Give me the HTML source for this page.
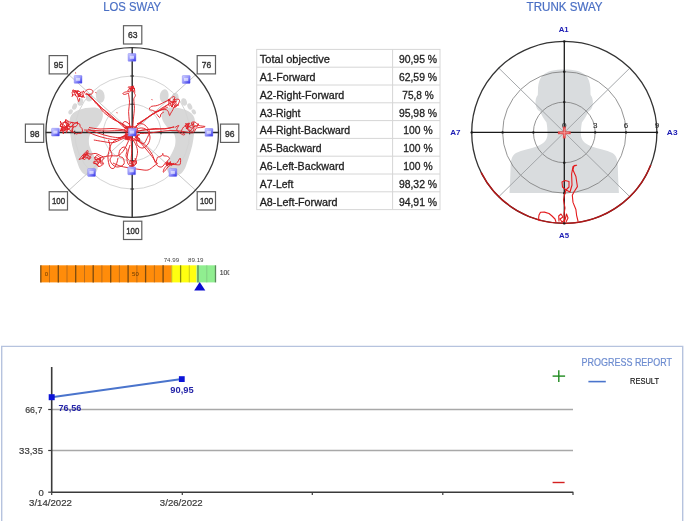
<!DOCTYPE html>
<html><head><meta charset="utf-8"><style>
html,body{margin:0;padding:0;background:#fff;}
svg{display:block;font-family:"Liberation Sans",sans-serif;filter:blur(0.35px);}
</style></head><body>
<svg width="685" height="522" viewBox="0 0 685 522">
<rect width="685" height="522" fill="#fff"/>
<text x="103.2" y="10.6" font-size="12.2" fill="#4a6fc4" text-anchor="start" stroke="#4a6fc4" stroke-width="0.2" textLength="58" lengthAdjust="spacingAndGlyphs">LOS SWAY</text>
<text x="526.6" y="10.6" font-size="12.2" fill="#4a6fc4" text-anchor="start" stroke="#4a6fc4" stroke-width="0.2" textLength="76" lengthAdjust="spacingAndGlyphs">TRUNK SWAY</text>
<g fill="#d8d8d8">
<path d="M70,118 C72,110 85,107 95,107.5 C102,108 104,113 102.5,118 C101,124 96,129 91,133 C88.5,136 88.5,142 89.5,146 C91,151 94,156 97,161 C99,166 98,173 92,175.5 C86,177 81,173 78.5,166 C75,156 72,147 71,139 C70,131 68.5,124 70,118 Z"/>
<ellipse cx="100.2" cy="96" rx="4.4" ry="6.8" transform="rotate(-8 100.2 96)"/>
<ellipse cx="89.1" cy="97.2" rx="3.3" ry="4.3"/>
<ellipse cx="80.3" cy="102" rx="2.8" ry="3.8" transform="rotate(15 80.3 102)"/>
<ellipse cx="74.6" cy="106.6" rx="2.3" ry="3.3" transform="rotate(25 74.6 106.6)"/>
<ellipse cx="70.6" cy="111.8" rx="2.0" ry="2.7" transform="rotate(30 70.6 111.8)"/>
<g transform="translate(264.4,0) scale(-1,1)">
<path d="M70,118 C72,110 85,107 95,107.5 C102,108 104,113 102.5,118 C101,124 96,129 91,133 C88.5,136 88.5,142 89.5,146 C91,151 94,156 97,161 C99,166 98,173 92,175.5 C86,177 81,173 78.5,166 C75,156 72,147 71,139 C70,131 68.5,124 70,118 Z"/>
<ellipse cx="100.2" cy="96" rx="4.4" ry="6.8" transform="rotate(-8 100.2 96)"/>
<ellipse cx="89.1" cy="97.2" rx="3.3" ry="4.3"/>
<ellipse cx="80.3" cy="102" rx="2.8" ry="3.8" transform="rotate(15 80.3 102)"/>
<ellipse cx="74.6" cy="106.6" rx="2.3" ry="3.3" transform="rotate(25 74.6 106.6)"/>
<ellipse cx="70.6" cy="111.8" rx="2.0" ry="2.7" transform="rotate(30 70.6 111.8)"/>
</g></g>
<ellipse cx="132.2" cy="132.5" rx="28.8" ry="28.3" fill="none" stroke="#d4d4d4" stroke-width="1"/>
<ellipse cx="132.2" cy="132.5" rx="57.5" ry="56.5" fill="none" stroke="#d4d4d4" stroke-width="1"/>
<line x1="132.2" y1="132.5" x2="67.4" y2="73.4" stroke="#c8c8c8" stroke-width="1"/>
<line x1="132.2" y1="132.5" x2="197.2" y2="73.4" stroke="#c8c8c8" stroke-width="1"/>
<line x1="132.2" y1="132.5" x2="197.2" y2="191.7" stroke="#c8c8c8" stroke-width="1"/>
<line x1="132.2" y1="132.5" x2="67.4" y2="191.7" stroke="#c8c8c8" stroke-width="1"/>
<ellipse cx="132.2" cy="132.5" rx="86.3" ry="84.8" fill="none" stroke="#3a3a3a" stroke-width="1.3"/>
<line x1="45.89999999999999" y1="132.5" x2="218.5" y2="132.5" stroke="#2a2a2a" stroke-width="1.4"/>
<line x1="132.2" y1="47.7" x2="132.2" y2="217.3" stroke="#2a2a2a" stroke-width="1.4"/>
<line x1="103.4" y1="130.7" x2="103.4" y2="134.3" stroke="#2a2a2a" stroke-width="1"/>
<line x1="130.39999999999998" y1="104.2" x2="134.0" y2="104.2" stroke="#2a2a2a" stroke-width="1"/>
<line x1="161.0" y1="130.7" x2="161.0" y2="134.3" stroke="#2a2a2a" stroke-width="1"/>
<line x1="130.39999999999998" y1="160.8" x2="134.0" y2="160.8" stroke="#2a2a2a" stroke-width="1"/>
<line x1="74.7" y1="130.7" x2="74.7" y2="134.3" stroke="#2a2a2a" stroke-width="1"/>
<line x1="130.39999999999998" y1="76.0" x2="134.0" y2="76.0" stroke="#2a2a2a" stroke-width="1"/>
<line x1="189.7" y1="130.7" x2="189.7" y2="134.3" stroke="#2a2a2a" stroke-width="1"/>
<line x1="130.39999999999998" y1="189.0" x2="134.0" y2="189.0" stroke="#2a2a2a" stroke-width="1"/>
<rect x="123.5" y="25.7" width="18.3" height="18.3" fill="#fff" stroke="#606060" stroke-width="1.2"/>
<text x="132.8" y="38.1" font-size="9.8" fill="#363636" text-anchor="middle" stroke="#363636" stroke-width="0.42" textLength="9.5" lengthAdjust="spacingAndGlyphs">63</text>
<rect x="197.2" y="55.6" width="18.3" height="18.3" fill="#fff" stroke="#606060" stroke-width="1.2"/>
<text x="206.5" y="68.0" font-size="9.8" fill="#363636" text-anchor="middle" stroke="#363636" stroke-width="0.42" textLength="9.5" lengthAdjust="spacingAndGlyphs">76</text>
<rect x="220.5" y="124.1" width="18.3" height="18.3" fill="#fff" stroke="#606060" stroke-width="1.2"/>
<text x="229.8" y="136.5" font-size="9.8" fill="#363636" text-anchor="middle" stroke="#363636" stroke-width="0.42" textLength="9.5" lengthAdjust="spacingAndGlyphs">96</text>
<rect x="197.2" y="191.7" width="18.3" height="18.3" fill="#fff" stroke="#606060" stroke-width="1.2"/>
<text x="206.5" y="204.1" font-size="9.8" fill="#363636" text-anchor="middle" stroke="#363636" stroke-width="0.42" textLength="13.2" lengthAdjust="spacingAndGlyphs">100</text>
<rect x="123.5" y="221.2" width="18.3" height="18.3" fill="#fff" stroke="#606060" stroke-width="1.2"/>
<text x="132.8" y="233.6" font-size="9.8" fill="#363636" text-anchor="middle" stroke="#363636" stroke-width="0.42" textLength="13.2" lengthAdjust="spacingAndGlyphs">100</text>
<rect x="49.2" y="191.7" width="18.3" height="18.3" fill="#fff" stroke="#606060" stroke-width="1.2"/>
<text x="58.5" y="204.1" font-size="9.8" fill="#363636" text-anchor="middle" stroke="#363636" stroke-width="0.42" textLength="13.2" lengthAdjust="spacingAndGlyphs">100</text>
<rect x="25.4" y="124.1" width="18.3" height="18.3" fill="#fff" stroke="#606060" stroke-width="1.2"/>
<text x="34.7" y="136.5" font-size="9.8" fill="#363636" text-anchor="middle" stroke="#363636" stroke-width="0.42" textLength="9.5" lengthAdjust="spacingAndGlyphs">98</text>
<rect x="49.2" y="55.6" width="18.3" height="18.3" fill="#fff" stroke="#606060" stroke-width="1.2"/>
<text x="58.5" y="68.0" font-size="9.8" fill="#363636" text-anchor="middle" stroke="#363636" stroke-width="0.42" textLength="9.5" lengthAdjust="spacingAndGlyphs">95</text>
<g fill="none" stroke="#e02228" stroke-width="0.95" stroke-linejoin="round">
<path d="M131.1,131.9 C129.8,131.0 126.1,128.9 123.3,126.7 C120.6,124.5 117.7,121.3 114.8,118.8 C112.0,116.3 109.3,114.0 106.3,111.6 C103.4,109.2 99.4,106.9 97.0,104.5 C94.5,102.2 93.5,99.3 91.8,97.5 C90.0,95.6 87.3,94.0 86.4,93.3"/>
<path d="M130.7,130.7 C129.5,129.7 125.9,126.9 123.1,124.9 C120.3,123.0 116.9,121.1 113.9,118.8 C110.8,116.6 107.7,113.9 104.9,111.3 C102.1,108.6 99.4,105.3 97.0,103.1 C94.7,100.8 92.7,99.3 90.9,97.7 C89.2,96.1 87.3,94.1 86.5,93.4"/>
<path d="M130.7,129.6 C129.5,128.7 126.4,126.1 123.6,124.5 C120.9,122.8 117.4,121.8 114.0,119.8 C110.6,117.7 106.3,114.7 103.5,112.1 C100.7,109.4 99.3,106.1 97.2,103.8 C95.2,101.4 93.1,99.5 91.3,97.9 C89.6,96.2 87.5,94.5 86.7,93.8"/>
<path d="M84.0,93.5 C84.3,93.0 85.1,91.2 86.0,90.5 C86.9,89.8 88.4,89.2 89.5,89.3 C90.6,89.3 92.4,90.0 92.8,90.8 C93.2,91.5 92.8,93.2 92.0,93.8 C91.2,94.4 89.2,94.5 88.0,94.5 C86.8,94.5 85.5,94.1 85.0,94.0"/>
<path d="M77.0,96.5 C77.2,97.1 77.7,99.2 78.0,100.0 C78.3,100.8 78.5,101.9 78.8,101.6 C79.1,101.3 79.5,98.6 79.6,98.0"/>
<path d="M78.2,93.5 L76.9,92.8 L76.7,91.3 L75.7,90.2 L75.3,91.7 L76.2,92.8 L77.6,93.4 L77.9,94.8 L79.1,95.8 L78.4,97.1 L78.6,95.6 L80.0,95.3 L81.5,94.8 L82.8,95.6 L82.3,97.0 L80.9,96.4 L79.5,96.3 L78.8,94.9 L77.5,94.2 L76.6,93.0 L77.7,91.9 L78.0,90.5 L77.9,92.0 L76.4,92.1 L75.2,91.3 L74.2,90.1 L73.2,91.3 L72.0,92.1 L72.3,93.6 L72.6,95.1 L72.1,96.5 L72.8,95.2 L74.2,94.5 L75.4,95.3 L76.4,96.5 L75.6,95.2 L75.3,93.7 L74.1,92.9 L74.8,91.5 L76.2,91.3 L77.7,90.9 L79.1,91.4 L80.4,92.0 L80.8,93.5 L80.3,94.9 L79.3,96.0 L78.1,96.9 L78.1,95.4 L78.9,94.1 L80.0,93.0 L81.2,92.2 L82.6,91.9 L83.8,91.0 L83.0,92.2 L82.7,93.7 L83.4,95.0 L83.2,96.5 L84.5,97.3 L83.1,96.7 L81.7,97.3 L80.9,96.0 L79.5,96.6 L79.7,95.1 L78.7,94.0 L77.7,92.9 L76.5,92.0 L75.0,91.8 L73.8,92.6 L73.7,91.1 L72.4,90.4 L73.8,89.8"/>
<path d="M129.9,131.0 C129.8,129.5 129.7,125.2 129.4,122.0 C129.2,118.7 128.6,114.9 128.6,111.6 C128.6,108.3 129.6,105.3 129.5,102.2 C129.5,99.1 128.6,94.6 128.4,93.1"/>
<path d="M132.6,131.5 C132.7,129.6 133.0,123.8 133.3,119.9 C133.6,116.0 134.3,111.6 134.4,108.2 C134.4,104.9 133.8,101.7 133.8,99.9 C133.8,98.2 134.0,98.4 134.3,97.6 C134.6,96.9 135.5,96.2 135.4,95.3 C135.4,94.5 134.1,92.9 133.9,92.4"/>
<path d="M128.5,91.5 C127.8,91.6 125.5,91.9 124.5,92.3 C123.5,92.7 122.7,93.4 122.8,93.8 C122.9,94.2 124.1,94.5 125.0,94.4 C125.9,94.3 127.8,93.2 128.3,93.0"/>
<path d="M131.2,89.0 L130.1,88.6 L129.6,87.5 L129.1,86.4 L128.3,87.4 L129.0,88.4 L130.0,89.0 L131.2,89.3 L132.0,90.1 L132.7,91.1 L133.8,91.6 L134.7,92.5 L134.7,91.3 L134.6,90.1 L134.1,89.0 L133.2,88.1 L133.1,86.9 L133.5,85.8 L133.0,86.9 L132.2,87.8 L131.8,88.9 L132.1,90.1 L131.3,91.0 L130.1,91.2 L129.2,92.0 L128.3,91.2 L127.8,90.2 L128.8,89.5 L129.7,88.7 L130.9,88.6 L130.9,87.4 L131.2,86.2 L132.1,87.0 L132.6,88.1 L133.8,88.1 L134.9,88.5 L133.8,88.1 L133.0,87.2 L132.7,86.0 L132.6,87.2 L133.2,88.3 L134.2,88.9 L134.6,90.0 L133.6,90.6 L132.4,90.8 L131.2,90.5 L130.0,90.4 L130.5,89.3 L131.0,88.2 L132.0,88.9 L132.6,87.9 L131.5,87.5 L131.0,86.4 L131.0,87.6 L131.4,88.8 L131.8,89.9"/>
<path d="M131.9,129.6 C132.8,128.8 135.1,126.6 137.4,124.9 C139.7,123.1 143.1,120.8 145.5,119.0 C148.0,117.2 149.9,115.5 152.2,114.1 C154.6,112.7 157.1,111.7 159.7,110.6 C162.3,109.4 166.5,107.7 167.8,107.2"/>
<path d="M132.5,131.1 C133.3,130.2 135.4,127.5 137.4,125.6 C139.4,123.8 142.1,121.8 144.5,120.0 C147.0,118.2 149.4,116.4 152.1,114.7 C154.7,113.1 157.9,111.7 160.4,110.1 C163.0,108.5 166.2,106.0 167.4,105.2"/>
<path d="M149.2,109.0 C149.5,108.6 150.1,106.9 151.2,106.4 C152.3,105.9 154.4,106.1 155.8,105.8 C157.2,105.5 158.2,105.2 159.7,104.5 C161.2,103.8 163.2,102.7 165.0,101.8 C166.8,100.9 168.9,100.1 170.2,99.2 C171.5,98.3 172.1,96.9 172.9,96.6 C173.7,96.3 174.6,96.7 174.8,97.2 C175.0,97.8 173.9,99.6 174.2,99.9 C174.5,100.2 175.9,99.2 176.8,99.2 C177.7,99.2 179.1,99.2 179.4,99.9 C179.7,100.6 179.2,102.1 178.8,103.1 C178.4,104.1 177.6,105.1 176.8,105.8 C176.0,106.5 174.8,106.4 174.2,107.1 C173.5,107.8 173.4,108.7 172.9,109.7 C172.4,110.7 171.5,112.0 170.9,113.0 C170.3,114.0 170.0,115.8 169.6,115.6 C169.2,115.4 168.9,112.7 168.3,111.7 C167.8,110.7 167.2,110.0 166.3,109.7 C165.4,109.4 164.1,109.6 163.0,109.7 C161.9,109.8 160.9,110.1 159.7,110.4 C158.5,110.7 157.0,111.7 155.8,111.7 C154.6,111.7 153.6,110.7 152.5,110.4 C151.4,110.1 149.8,109.8 149.2,109.7"/>
<path d="M156.4,113.7 C156.9,114.3 158.9,117.5 159.7,117.6 C160.5,117.6 160.3,114.9 161.0,114.0 C161.7,113.1 163.5,112.3 164.0,112.0"/>
<path d="M137.0,124.0 C139.2,122.7 145.8,118.7 150.0,116.0 C154.2,113.3 158.5,110.2 162.0,108.0 C165.5,105.8 168.5,104.2 171.0,103.0 C173.5,101.8 176.0,101.3 177.0,101.0"/>
<path d="M173.2,103.2 L173.4,102.0 L173.1,100.7 L173.5,99.4 L174.5,98.6 L174.7,99.9 L174.7,101.2 L175.6,102.1 L176.2,103.3 L175.6,104.5 L174.7,105.4 L174.4,106.7 L173.6,107.7 L174.7,107.0 L176.0,107.0 L176.2,105.7 L177.4,105.3 L178.7,105.0 L177.4,104.9 L176.1,105.0 L174.8,105.3 L173.6,104.7 L172.4,105.2 L171.3,105.9 L171.7,107.1 L171.9,105.8 L172.3,104.6 L172.8,103.4 L173.6,102.4 L174.7,101.6 L174.9,102.9 L174.1,103.9 L173.1,104.7 L172.3,105.8 L172.4,107.1 L172.5,105.8 L172.3,104.5 L172.8,103.3 L172.6,102.1 L171.5,101.4 L170.2,101.1 L169.2,100.4 L168.0,99.8 L168.9,98.9 L168.4,100.1 L168.4,101.4 L168.8,102.7 L168.8,104.0 L168.5,105.2 L169.6,105.9 L170.7,105.3 L170.9,104.0 L169.9,103.1 L170.1,101.8 L169.5,100.7 L168.4,100.1 L169.6,100.3 L170.5,101.2 L171.6,102.0 L172.9,101.7 L174.0,101.0"/>
<path d="M134.5,131.5 C136.3,131.3 142.2,130.4 145.6,129.9 C149.0,129.4 151.5,128.7 154.8,128.5 C158.1,128.4 162.0,129.2 165.2,128.9 C168.5,128.6 172.6,127.1 174.1,126.7"/>
<path d="M135.8,131.6 C137.2,131.3 141.4,130.1 144.6,129.8 C147.8,129.4 151.8,129.5 155.1,129.3 C158.3,129.1 161.1,129.0 164.3,128.7 C167.5,128.3 172.7,127.4 174.3,127.1"/>
<path d="M174.9,127.5 C175.6,127.2 178.5,125.1 178.8,125.5 C179.1,125.9 176.2,128.6 176.8,130.1 C177.5,131.6 181.4,134.0 182.7,134.7 C184.0,135.4 184.9,134.6 184.7,134.1 C184.5,133.6 181.4,132.7 181.4,131.4 C181.4,130.1 183.5,126.5 184.7,126.2 C185.9,125.9 187.4,128.6 188.7,129.5 C190.0,130.4 191.7,131.6 192.6,131.4 C193.5,131.2 194.1,129.5 193.9,128.1 C193.7,126.7 191.1,123.9 191.3,122.9 C191.5,121.9 193.9,121.8 195.2,122.2 C196.5,122.6 197.5,124.8 199.2,125.5 C200.8,126.2 204.7,126.2 205.1,126.5 C205.5,126.8 203.2,127.2 201.8,127.5 C200.4,127.8 197.8,127.3 196.5,128.1 C195.2,128.9 195.0,131.3 193.9,132.1 C192.8,132.9 192.3,132.9 190.0,132.7 C187.7,132.5 183.3,131.4 180.0,131.0 C176.7,130.6 173.3,130.4 170.0,130.5 C166.7,130.6 163.3,131.1 160.0,131.5 C156.7,131.9 153.3,132.7 150.0,133.0 C146.7,133.3 141.7,133.4 140.0,133.5"/>
<path d="M192.5,127.0 L191.5,127.9 L190.2,127.7 L189.3,126.8 L188.8,125.6 L188.4,124.4 L188.0,123.1 L187.3,124.3 L186.3,125.1 L185.2,125.7 L186.5,125.9 L187.7,125.7 L188.1,126.9 L188.1,128.2 L186.9,128.8 L185.9,128.1 L187.2,128.3 L187.6,127.0 L188.9,126.8 L190.0,126.1 L191.1,125.5 L192.1,124.7 L193.2,124.0 L193.3,122.7 L193.3,124.0 L193.7,125.2 L194.1,126.4 L195.2,125.7 L196.5,125.7 L197.7,126.0 L198.3,124.9 L198.1,123.6 L198.0,124.9 L197.3,125.9 L196.6,127.0 L195.3,126.8 L194.0,126.6 L192.9,127.4 L192.5,128.6 L191.4,129.4 L190.8,130.5 L189.6,131.0 L188.4,130.5 L187.6,129.5 L187.7,128.2 L187.7,126.9 L187.6,125.6 L187.0,124.5 L185.9,123.8 L187.0,124.6 L188.2,124.9 L189.3,124.1 L189.0,122.8 L188.9,124.1 L188.3,125.3 L188.1,126.6 L186.9,127.0 L185.7,126.4 L185.3,125.1 L186.2,124.2 L185.7,123.0"/>
<path d="M134.2,134.1 C135.2,135.3 138.1,138.9 140.3,141.2 C142.5,143.5 145.5,145.6 147.5,147.9 C149.5,150.1 151.0,152.2 152.3,154.6 C153.5,157.1 154.7,161.3 155.2,162.6"/>
<path d="M157.4,157.4 C158.2,157.1 161.2,156.1 162.1,155.4 C163.0,154.7 162.6,153.3 162.8,153.4 C163.0,153.5 162.8,155.4 163.5,155.8 C164.2,156.2 165.8,155.7 166.8,156.1 C167.8,156.5 169.3,157.4 169.5,158.1 C169.7,158.8 168.9,159.3 168.2,160.1 C167.5,160.9 166.5,161.7 165.5,162.8 C164.5,163.9 163.3,166.2 162.1,166.8 C160.9,167.4 159.1,166.9 158.1,166.2 C157.1,165.5 156.2,164.3 156.1,162.8 C156.0,161.3 157.2,158.3 157.4,157.4"/>
<path d="M165.5,163.0 C166.2,163.1 168.2,163.4 170.0,163.5 C171.8,163.6 174.5,164.4 176.2,163.5 C177.9,162.6 179.5,158.0 180.2,158.1 C180.9,158.2 180.6,163.0 180.2,164.1 C179.8,165.2 179.0,164.7 177.6,164.8 C176.2,164.9 173.6,164.2 172.0,164.5 C170.4,164.8 169.6,165.5 168.2,166.8 C166.8,168.1 164.2,171.9 163.5,172.2 C162.8,172.5 163.5,170.0 164.1,168.8 C164.7,167.6 166.5,165.6 167.0,165.0"/>
<path d="M135.6,137.3 C136.6,138.4 139.5,141.6 141.4,143.7 C143.3,145.8 145.1,147.9 146.8,150.0 C148.6,152.2 150.5,154.4 152.1,156.6 C153.7,158.8 155.8,162.1 156.6,163.2"/>
<path d="M170.8,163.5 L169.7,164.0 L168.6,164.5 L167.7,165.4 L166.5,165.2 L167.7,165.2 L168.6,164.4 L168.9,163.2 L170.0,162.6 L169.7,163.8 L170.4,164.7 L171.3,165.5 L172.4,165.0 L172.1,163.9 L170.9,163.7 L170.2,162.7 L170.5,161.6 L170.5,162.8 L170.4,163.9 L169.7,164.9 L169.3,163.8 L168.1,163.8 L168.0,162.6 L167.5,161.5 L167.0,162.6 L166.1,163.3 L167.0,164.1 L167.5,165.2 L168.4,164.4 L167.6,163.4 L167.4,162.2 L166.8,163.3 L165.8,163.9 L166.3,165.0 L167.5,164.9 L168.5,164.3 L169.7,164.0 L170.9,163.9 L172.1,164.3 L173.2,163.9 L173.9,162.9"/>
<path d="M131.3,134.0 C131.3,135.3 131.1,139.2 131.2,141.8 C131.2,144.5 131.8,147.2 131.8,149.8 C131.8,152.4 131.4,155.0 131.3,157.4 C131.2,159.7 131.2,162.7 131.1,163.7"/>
<path d="M130.0,145.0 C129.7,146.2 128.5,149.5 128.0,152.0 C127.5,154.5 126.8,157.8 127.0,160.0 C127.2,162.2 128.0,164.0 129.0,165.0 C130.0,166.0 131.8,166.3 133.0,166.0 C134.2,165.7 136.2,164.3 136.5,163.0 C136.8,161.7 135.2,158.8 135.0,158.0"/>
<path d="M133.0,163.5 L133.2,164.6 L133.6,165.6 L132.8,166.4 L131.8,165.8 L131.9,164.7 L132.2,163.7 L132.3,162.6 L133.2,161.9 L133.7,160.9 L134.5,160.1 L133.9,161.1 L133.6,162.1 L132.6,162.3 L132.0,163.3 L132.6,164.1 L133.4,165.0 L132.7,165.9 L131.7,165.7 L130.6,165.8 L129.6,166.3 L130.5,166.9 L131.6,166.8 L132.7,166.6 L133.7,166.2 L133.7,165.1 L133.3,164.1 L132.6,163.3 L131.5,163.0 L130.7,163.7 L129.6,163.6 L129.6,162.5 L129.3,161.4 L129.9,160.5 L130.8,161.1 L131.8,161.6 L132.9,161.4 L133.6,162.2 L134.7,162.3 L135.6,161.8 L136.2,160.9 L136.0,161.9 L136.0,163.0 L135.6,164.0 L134.5,164.0 L133.5,163.4"/>
<path d="M79.0,159.5 C80.3,158.0 85.6,151.7 87.1,150.7 C88.5,149.7 88.2,152.3 87.7,153.4 C87.2,154.5 85.9,156.4 84.4,157.4 C83.0,158.4 79.9,159.2 79.0,159.5"/>
<path d="M87.1,153.4 C87.8,153.5 89.8,154.1 91.1,154.1 C92.4,154.1 93.8,153.3 95.1,153.4 C96.4,153.5 97.8,154.2 99.1,154.8 C100.4,155.4 101.8,156.6 103.2,156.8 C104.6,157.0 105.7,156.3 107.2,156.1 C108.7,155.9 110.1,155.9 112.0,155.8 C113.9,155.7 116.6,156.4 118.6,155.4 C120.6,154.4 122.4,152.2 124.0,150.0 C125.6,147.8 126.8,144.3 128.0,142.0 C129.2,139.7 130.5,137.0 131.0,136.0"/>
<path d="M94.0,158.0 C94.5,157.6 96.0,155.6 97.0,155.5 C98.0,155.4 98.8,157.1 100.0,157.5 C101.2,157.9 103.7,157.4 104.0,158.0 C104.3,158.6 102.1,160.0 102.0,161.0 C101.9,162.0 104.0,163.1 103.5,164.0 C103.0,164.9 100.2,166.5 99.0,166.5 C97.8,166.5 97.0,164.6 96.0,164.0 C95.0,163.4 93.5,163.6 93.3,163.0 C93.1,162.4 94.7,160.9 95.0,160.5"/>
<path d="M96.5,159.5 C97.0,159.3 98.9,158.2 99.5,158.5 C100.1,158.8 100.5,160.7 100.2,161.5 C100.0,162.3 98.5,163.6 98.0,163.5 C97.5,163.4 97.6,161.4 97.5,161.0"/>
<path d="M98.5,166.8 C98.3,166.3 97.7,164.5 97.5,164.0"/>
<path d="M98.5,161.5 L97.5,161.1 L96.4,161.2 L95.4,161.6 L94.3,161.5 L94.7,162.5 L94.0,163.4 L95.1,163.4 L96.2,163.7 L97.3,164.0 L97.2,165.1 L97.6,164.0 L98.5,163.4 L98.6,162.3 L99.3,161.5 L100.1,160.7 L100.1,159.6 L100.4,158.5 L100.4,157.4 L100.3,158.5 L99.8,159.5 L98.7,159.6 L98.0,158.7 L97.2,158.0 L96.1,157.7 L95.2,157.1 L94.9,158.1 L94.8,159.2 L95.8,159.5 L96.9,159.8 L97.7,159.0 L98.7,158.6 L99.7,159.0 L100.6,159.6 L100.6,160.7 L101.1,161.7 L101.9,162.5 L102.6,163.4 L101.9,164.2 L100.9,163.7 L100.2,162.9 L100.9,162.1 L100.4,161.1 L99.3,160.7 L98.8,159.8 L97.7,159.8 L96.7,160.4 L95.8,159.7 L94.9,159.2 L96.0,159.2 L96.0,160.3"/>
<path d="M91.0,155.5 L90.5,156.7 L90.9,157.9 L89.8,158.6 L88.6,159.2 L87.9,158.1 L86.7,157.8 L85.6,158.6 L84.7,159.6 L83.6,159.0 L83.3,157.7 L84.2,156.8 L85.2,156.0 L85.8,154.8 L85.4,153.6 L84.3,154.2 L84.0,155.5 L83.4,156.6 L83.0,157.9 L82.3,159.0 L83.0,157.8 L84.2,157.4 L85.5,157.3 L86.8,157.2 L88.0,157.5 L88.1,156.2 L87.6,155.0 L86.4,154.5 L86.8,153.2 L87.0,151.9 L86.7,153.2 L85.7,154.0 L85.6,155.3 L84.4,155.8 L83.6,156.8 L82.9,157.9 L83.0,159.2 L82.4,158.0 L83.4,158.8 L83.8,157.6 L83.4,156.4 L83.1,155.1 L84.3,154.7 L85.6,154.4 L86.9,154.4 L88.0,154.9 L89.1,155.7 L89.5,156.9 L89.0,158.1 L88.9,159.4 L89.9,158.6"/>
<path d="M86.0,131.0 C87.5,131.7 91.8,133.8 95.0,135.0 C98.2,136.2 101.7,137.2 105.0,138.0 C108.3,138.8 112.0,139.6 115.0,139.5 C118.0,139.4 120.7,138.4 123.0,137.5 C125.3,136.6 128.0,134.6 129.0,134.0"/>
<path d="M88.0,129.0 C89.7,129.7 94.3,131.8 98.0,133.0 C101.7,134.2 106.3,135.8 110.0,136.5 C113.7,137.2 117.2,137.8 120.0,137.5 C122.8,137.2 125.8,135.4 127.0,135.0"/>
<path d="M84.0,130.0 C85.8,130.1 91.0,130.3 95.0,130.5 C99.0,130.7 103.8,131.0 108.0,131.0 C112.2,131.0 116.3,130.3 120.0,130.5 C123.7,130.7 128.3,131.8 130.0,132.0"/>
<path d="M89.0,127.5 C90.8,127.8 96.2,128.8 100.0,129.0 C103.8,129.2 108.3,128.4 112.0,128.5 C115.7,128.6 119.0,129.1 122.0,129.5 C125.0,129.9 128.7,130.8 130.0,131.0"/>
<path d="M73.8,126.8 L72.1,128.8 L71.8,131.4 L74.2,132.3 L76.2,134.0 L78.7,133.3 L81.3,133.3 L82.6,131.1 L82.0,128.5 L80.2,126.6 L79.8,124.1 L77.3,123.2 L74.8,122.9 L72.2,122.5 L69.6,122.0 L67.4,120.6 L68.3,123.0 L67.8,125.6 L65.7,127.2 L63.4,128.4 L60.8,128.3 L63.2,127.2 L65.7,128.0 L68.1,128.9 L70.3,130.3 L71.9,132.4 L72.7,129.9 L72.9,127.3 L73.1,124.7 L75.2,123.2 L77.5,121.9 L77.5,124.5 L75.9,126.6 L73.3,126.9 L70.7,126.6 L68.1,126.7 L65.6,126.5 L63.5,124.9 L61.2,123.6 L60.4,121.2 L61.0,123.7 L60.0,126.1 L62.5,126.8 L65.1,126.8 L67.6,127.7 L67.6,130.3 L66.5,132.6 L66.0,130.1 L68.5,129.2 L67.0,127.0 L66.4,124.5 L65.4,122.1 L65.8,119.5 L65.9,122.1 L63.3,122.5 L61.2,124.0 L60.2,126.4 L62.8,126.9 L64.5,128.8 L63.7,131.3 L63.4,133.9 L62.6,131.4 L61.8,128.9 L62.1,126.3 L63.0,123.9 L64.5,121.8 L66.2,119.8 L65.5,122.3 L67.8,123.4 L69.0,125.7 L66.4,125.7 L66.0,128.2 L65.1,130.7 L62.7,129.5 L60.4,130.8 L63.0,130.4"/>
<path d="M70.0,127.0 L69.0,125.9 L68.3,124.5 L67.6,123.3 L66.3,122.4 L67.1,123.7 L67.0,125.2 L66.2,126.4 L66.2,127.9 L64.9,128.7 L63.4,128.9 L62.0,129.4 L60.6,129.9 L60.8,131.4 L60.3,130.0 L61.7,129.6 L63.1,130.1 L64.6,130.1 L65.9,129.4 L67.4,129.2 L68.9,129.1 L69.8,127.9 L70.6,126.7 L72.0,126.0 L73.1,125.0 L72.8,123.5 L72.2,122.2 L70.9,122.8 L69.9,123.9 L68.9,125.0 L67.9,126.2"/>
<path d="M127.0,134.0 C125.8,134.7 122.3,136.7 120.0,138.0 C117.7,139.3 114.7,140.3 113.0,142.0 C111.3,143.7 110.2,145.8 110.0,148.0 C109.8,150.2 112.0,153.0 112.0,155.0 C112.0,157.0 109.8,158.3 110.0,160.0 C110.2,161.7 111.7,163.8 113.0,165.0 C114.3,166.2 116.2,167.2 118.0,167.0 C119.8,166.8 123.2,165.5 124.0,164.0 C124.8,162.5 123.8,159.3 123.0,158.0 C122.2,156.7 119.5,157.3 119.0,156.0 C118.5,154.7 119.2,151.5 120.0,150.0 C120.8,148.5 122.8,147.0 124.0,147.0 C125.2,147.0 126.7,148.5 127.0,150.0 C127.3,151.5 125.7,154.3 126.0,156.0 C126.3,157.7 128.5,159.3 129.0,160.0"/>
<path d="M113.0,163.0 C114.2,163.5 117.7,165.2 120.0,166.0 C122.3,166.8 124.8,167.1 127.0,167.5 C129.2,167.9 130.8,168.2 133.0,168.5 C135.2,168.8 137.5,169.2 140.0,169.5 C142.5,169.8 145.7,170.6 148.0,170.0 C150.3,169.4 152.3,167.2 154.0,166.0 C155.7,164.8 157.3,163.5 158.0,163.0"/>
<path d="M134.0,132.0 C135.0,131.3 137.8,128.3 140.0,128.0 C142.2,127.7 145.3,128.5 147.0,130.0 C148.7,131.5 149.8,134.7 150.0,137.0 C150.2,139.3 149.2,142.2 148.0,144.0 C146.8,145.8 144.7,147.7 143.0,148.0 C141.3,148.3 139.2,147.3 138.0,146.0 C136.8,144.7 136.3,141.0 136.0,140.0"/>
<path d="M133.0,140.0 C133.5,140.8 135.2,143.0 136.0,145.0 C136.8,147.0 137.5,149.7 137.5,152.0 C137.5,154.3 136.6,157.3 136.0,159.0 C135.4,160.7 134.3,161.5 134.0,162.0"/>
<path d="M137.1,123.5 C138.2,123.6 141.7,123.4 143.6,124.3 C145.5,125.2 147.5,127.6 148.4,129.1 C149.3,130.6 149.5,131.5 149.2,133.1 C148.9,134.7 147.7,136.9 146.8,138.7 C145.9,140.4 145.1,143.2 143.6,143.6 C142.1,144.0 139.4,142.3 138.0,141.0 C136.6,139.7 135.5,136.8 135.0,136.0"/>
<path d="M130.0,130.0 C129.2,129.7 126.2,129.0 125.0,128.0 C123.8,127.0 122.7,125.1 122.7,124.0 C122.7,122.9 124.0,121.5 125.0,121.5 C126.0,121.5 128.0,122.8 129.0,124.0 C130.0,125.2 130.7,128.2 131.0,129.0"/>
<path d="M108.5,140.0 C108.7,141.1 110.0,143.9 109.9,146.7 C109.8,149.5 107.9,153.5 107.9,156.8 C107.9,160.2 108.9,164.9 109.9,166.8 C110.9,168.7 112.8,168.8 113.9,168.2 C115.0,167.6 115.9,165.2 116.6,163.5 C117.3,161.8 117.8,158.9 118.0,158.0"/>
<path d="M93.8,140.0 C95.3,140.2 99.9,141.1 103.0,141.5 C106.1,141.9 109.4,143.1 112.6,142.7 C115.8,142.3 119.3,140.1 122.0,139.0 C124.7,137.9 127.8,136.5 129.0,136.0"/>
<path d="M132.5,133.5 L131.1,134.1 L129.7,134.5 L129.6,136.0 L128.8,137.3 L127.7,138.3 L126.2,138.3 L125.4,139.6 L126.9,139.4 L127.3,137.9 L125.8,137.6 L124.7,136.5 L125.9,135.6 L126.2,134.1 L126.1,132.6 L126.4,131.1 L124.9,130.9 L124.5,129.5 L125.3,128.2 L126.7,127.7 L128.2,127.5 L129.7,127.7 L131.1,127.3 L132.3,126.3 L133.7,126.7 L135.1,127.3 L136.5,127.0 L137.3,128.3 L137.2,129.8 L137.0,131.3 L136.1,132.5 L135.3,133.8 L135.6,135.2 L136.4,136.5 L136.9,137.9 L138.4,138.2 L139.8,138.8 L138.5,138.0 L137.4,137.0 L136.9,135.6 L138.1,134.7 L139.6,134.8 L138.1,135.2 L136.6,135.3 L135.3,134.7 L133.8,134.3 L132.6,133.5 L131.1,133.0 L129.7,133.3 L128.2,133.4 L126.8,132.8 L125.5,133.5 L125.2,135.0 L126.4,136.0 L126.9,137.4 L128.0,138.3 L129.5,138.3 L130.8,137.6 L132.0,138.5 L132.0,140.0 L133.3,140.6 L134.7,140.0 L136.2,139.7 L137.2,140.8 L138.6,140.2 L140.1,139.9 L138.7,140.6 L137.3,140.8 L135.9,140.2 L134.6,139.5 L133.5,140.5 L132.9,139.1 L131.4,138.9 L130.3,137.9 L128.8,137.6 L127.3,137.7 L127.4,139.2 L126.1,138.5 L124.6,138.4 L125.7,137.4 L127.1,136.9 L128.6,136.9 L129.5,138.1 L128.3,139.0 L127.3,140.1 L128.5,139.2 L129.9,139.8 L131.3,140.3 L131.8,138.9 L131.6,137.4 L130.2,137.7 L129.1,136.7 L130.1,135.6 L129.6,134.2 L128.1,134.4 L126.6,134.5 L127.6,135.6 L126.6,136.6 L125.1,136.9 L126.4,137.7 L127.2,138.9 L128.3,140.0 L127.9,138.5 L128.5,137.2 L128.8,135.7 L130.2,135.1 L131.4,134.2 L132.5,133.2 L133.6,132.1 L133.8,130.6 L133.0,129.3 L132.7,127.9 L132.2,126.5 L130.7,126.5 L129.2,126.7 L127.8,126.4 L126.3,126.4 L125.2,127.5 L126.6,128.0 L127.9,128.8 L129.0,129.7"/>
<path d="M132.5,133.5 L132.7,132.5 L133.7,132.7 L134.7,132.8 L135.6,132.5 L136.6,132.5 L137.6,132.2 L136.7,132.7 L136.6,133.7 L136.7,134.7 L137.6,135.2 L137.5,136.1 L137.6,137.1 L136.9,137.8 L135.9,137.5 L135.1,138.1 L134.4,138.8 L133.5,138.6 L132.5,138.3 L131.5,138.2 L130.8,137.4 L130.8,136.4 L130.4,135.5 L129.8,134.7 L129.7,133.7 L129.8,132.7 L130.0,131.7 L129.4,131.0 L130.0,130.2 L130.5,129.3 L131.2,128.6 L131.9,129.4 L132.5,130.2 L133.0,131.0 L133.9,131.4 L134.7,132.0 L134.7,133.0 L134.3,133.9 L133.5,134.5 L132.5,134.7 L131.5,135.0 L131.2,134.0 L130.4,133.4 L129.9,132.6 L130.1,131.6 L130.6,130.7 L130.2,129.8 L129.2,129.4 L129.3,128.4 L128.6,129.2 L127.9,129.9 L128.8,130.3 L129.7,130.7 L130.3,129.9 L129.5,129.2 L128.7,128.7 L127.7,128.7 L128.7,128.9 L129.6,129.2 L130.5,129.6 L131.3,129.0"/>
<path d="M75.1,72.8 L76.1,73.1"/>
<path d="M95.4,92.5 L96.4,92.8"/>
<path d="M116.5,112.6 L117.5,112.89999999999999"/>
<path d="M151.5,99.5 L152.5,99.8"/>
</g>
<defs><linearGradient id="mg" x1="0" y1="0" x2="1" y2="1"><stop offset="0" stop-color="#d4d4ff"/><stop offset="0.5" stop-color="#9494fa"/><stop offset="1" stop-color="#2a2ae6"/></linearGradient></defs>
<rect x="128.1" y="53.5" width="7.8" height="7.8" rx="0.6" fill="url(#mg)" stroke="#7070f0" stroke-width="0.4"/>
<rect x="129.8" y="55.8" width="4.2" height="3" fill="#f4f4ff" opacity="0.65"/>
<rect x="182.29999999999998" y="75.6" width="7.8" height="7.8" rx="0.6" fill="url(#mg)" stroke="#7070f0" stroke-width="0.4"/>
<rect x="184.0" y="77.9" width="4.2" height="3" fill="#f4f4ff" opacity="0.65"/>
<rect x="205.1" y="128.5" width="7.8" height="7.8" rx="0.6" fill="url(#mg)" stroke="#7070f0" stroke-width="0.4"/>
<rect x="206.8" y="130.8" width="4.2" height="3" fill="#f4f4ff" opacity="0.65"/>
<rect x="169.0" y="168.6" width="7.8" height="7.8" rx="0.6" fill="url(#mg)" stroke="#7070f0" stroke-width="0.4"/>
<rect x="170.70000000000002" y="170.9" width="4.2" height="3" fill="#f4f4ff" opacity="0.65"/>
<rect x="127.79999999999998" y="166.9" width="7.8" height="7.8" rx="0.6" fill="url(#mg)" stroke="#7070f0" stroke-width="0.4"/>
<rect x="129.5" y="169.20000000000002" width="4.2" height="3" fill="#f4f4ff" opacity="0.65"/>
<rect x="87.69999999999999" y="168.6" width="7.8" height="7.8" rx="0.6" fill="url(#mg)" stroke="#7070f0" stroke-width="0.4"/>
<rect x="89.39999999999999" y="170.9" width="4.2" height="3" fill="#f4f4ff" opacity="0.65"/>
<rect x="51.6" y="128.29999999999998" width="7.8" height="7.8" rx="0.6" fill="url(#mg)" stroke="#7070f0" stroke-width="0.4"/>
<rect x="53.3" y="130.6" width="4.2" height="3" fill="#f4f4ff" opacity="0.65"/>
<rect x="74.19999999999999" y="75.5" width="7.8" height="7.8" rx="0.6" fill="url(#mg)" stroke="#7070f0" stroke-width="0.4"/>
<rect x="75.89999999999999" y="77.80000000000001" width="4.2" height="3" fill="#f4f4ff" opacity="0.65"/>
<rect x="128.29999999999998" y="128.29999999999998" width="7.8" height="7.8" rx="0.6" fill="url(#mg)" stroke="#7070f0" stroke-width="0.4"/>
<rect x="130.0" y="130.6" width="4.2" height="3" fill="#f4f4ff" opacity="0.65"/>
<rect x="256.7" y="49.4" width="183.3" height="160.20000000000002" fill="#fff" stroke="#d6d6d6" stroke-width="1"/>
<line x1="256.7" y1="67.2" x2="440.0" y2="67.2" stroke="#d6d6d6" stroke-width="1"/>
<line x1="256.7" y1="85.0" x2="440.0" y2="85.0" stroke="#d6d6d6" stroke-width="1"/>
<line x1="256.7" y1="102.8" x2="440.0" y2="102.8" stroke="#d6d6d6" stroke-width="1"/>
<line x1="256.7" y1="120.6" x2="440.0" y2="120.6" stroke="#d6d6d6" stroke-width="1"/>
<line x1="256.7" y1="138.4" x2="440.0" y2="138.4" stroke="#d6d6d6" stroke-width="1"/>
<line x1="256.7" y1="156.2" x2="440.0" y2="156.2" stroke="#d6d6d6" stroke-width="1"/>
<line x1="256.7" y1="174.0" x2="440.0" y2="174.0" stroke="#d6d6d6" stroke-width="1"/>
<line x1="256.7" y1="191.8" x2="440.0" y2="191.8" stroke="#d6d6d6" stroke-width="1"/>
<line x1="392.6" y1="49.4" x2="392.6" y2="209.60000000000002" stroke="#d6d6d6" stroke-width="1"/>
<text x="259.7" y="63.1" font-size="10.8" fill="#1e1e1e" text-anchor="start" stroke="#1e1e1e" stroke-width="0.3" textLength="70.3" lengthAdjust="spacingAndGlyphs">Total objective</text>
<text x="418.0" y="63.1" font-size="10.8" fill="#1e1e1e" text-anchor="middle" stroke="#1e1e1e" stroke-width="0.3" textLength="38.2" lengthAdjust="spacingAndGlyphs">90,95 %</text>
<text x="259.7" y="80.9" font-size="10.8" fill="#1e1e1e" text-anchor="start" stroke="#1e1e1e" stroke-width="0.3" textLength="55.7" lengthAdjust="spacingAndGlyphs">A1-Forward</text>
<text x="418.0" y="80.9" font-size="10.8" fill="#1e1e1e" text-anchor="middle" stroke="#1e1e1e" stroke-width="0.3" textLength="38.2" lengthAdjust="spacingAndGlyphs">62,59 %</text>
<text x="259.7" y="98.7" font-size="10.8" fill="#1e1e1e" text-anchor="start" stroke="#1e1e1e" stroke-width="0.3" textLength="84.5" lengthAdjust="spacingAndGlyphs">A2-Right-Forward</text>
<text x="418.0" y="98.7" font-size="10.8" fill="#1e1e1e" text-anchor="middle" stroke="#1e1e1e" stroke-width="0.3" textLength="31.4" lengthAdjust="spacingAndGlyphs">75,8 %</text>
<text x="259.7" y="116.5" font-size="10.8" fill="#1e1e1e" text-anchor="start" stroke="#1e1e1e" stroke-width="0.3" textLength="40.8" lengthAdjust="spacingAndGlyphs">A3-Right</text>
<text x="418.0" y="116.5" font-size="10.8" fill="#1e1e1e" text-anchor="middle" stroke="#1e1e1e" stroke-width="0.3" textLength="38.2" lengthAdjust="spacingAndGlyphs">95,98 %</text>
<text x="259.7" y="134.3" font-size="10.8" fill="#1e1e1e" text-anchor="start" stroke="#1e1e1e" stroke-width="0.3" textLength="90.5" lengthAdjust="spacingAndGlyphs">A4-Right-Backward</text>
<text x="418.0" y="134.3" font-size="10.8" fill="#1e1e1e" text-anchor="middle" stroke="#1e1e1e" stroke-width="0.3" textLength="29.3" lengthAdjust="spacingAndGlyphs">100 %</text>
<text x="259.7" y="152.1" font-size="10.8" fill="#1e1e1e" text-anchor="start" stroke="#1e1e1e" stroke-width="0.3" textLength="61.9" lengthAdjust="spacingAndGlyphs">A5-Backward</text>
<text x="418.0" y="152.1" font-size="10.8" fill="#1e1e1e" text-anchor="middle" stroke="#1e1e1e" stroke-width="0.3" textLength="29.3" lengthAdjust="spacingAndGlyphs">100 %</text>
<text x="259.7" y="169.9" font-size="10.8" fill="#1e1e1e" text-anchor="start" stroke="#1e1e1e" stroke-width="0.3" textLength="84.7" lengthAdjust="spacingAndGlyphs">A6-Left-Backward</text>
<text x="418.0" y="169.9" font-size="10.8" fill="#1e1e1e" text-anchor="middle" stroke="#1e1e1e" stroke-width="0.3" textLength="29.3" lengthAdjust="spacingAndGlyphs">100 %</text>
<text x="259.7" y="187.7" font-size="10.8" fill="#1e1e1e" text-anchor="start" stroke="#1e1e1e" stroke-width="0.3" textLength="33.6" lengthAdjust="spacingAndGlyphs">A7-Left</text>
<text x="418.0" y="187.7" font-size="10.8" fill="#1e1e1e" text-anchor="middle" stroke="#1e1e1e" stroke-width="0.3" textLength="38.2" lengthAdjust="spacingAndGlyphs">98,32 %</text>
<text x="259.7" y="205.5" font-size="10.8" fill="#1e1e1e" text-anchor="start" stroke="#1e1e1e" stroke-width="0.3" textLength="77.8" lengthAdjust="spacingAndGlyphs">A8-Left-Forward</text>
<text x="418.0" y="205.5" font-size="10.8" fill="#1e1e1e" text-anchor="middle" stroke="#1e1e1e" stroke-width="0.3" textLength="38.2" lengthAdjust="spacingAndGlyphs">94,91 %</text>
<path fill="#d9dcde" d="M564.2,69.5 C555,69.5 547,71 542.5,75.5 C539.5,78.5 538.5,83 538,88 C538,91 537.9,93 537.8,95 C536,97 535.3,100 535.6,104 C536,108 538,110.5 540,111.5 C541.5,114.5 543,118 546.5,122.5 C547.2,126 547.5,130 547.5,134 C547.5,139 545,143 538,146 C530,149 522,150 516,153 C511,156 510.5,162 510.5,170 C510.3,178 509.8,186 509.5,193 L618.9,193 C618.6,186 618.1,178 617.9,170 C617.9,162 617.4,156 612.4,153 C606.4,150 598.4,149 590.4,146 C583.4,143 580.9,139 580.9,134 C580.9,130 581.2,126 581.9,122.5 C585.4,118 586.9,114.5 588.4,111.5 C590.4,110.5 592.4,108 592.8,104 C593.1,100 592.4,97 590.6,95 C590.5,93 590.4,91 590.4,88 C589.9,83 588.9,78.5 585.9,75.5 C581.4,71 573.4,69.5 564.2,69.5 Z"/>
<ellipse cx="564.3" cy="132.4" rx="30.9" ry="30.3" fill="none" stroke="#7a7a7a" stroke-width="0.8"/>
<ellipse cx="564.3" cy="132.4" rx="61.7" ry="60.7" fill="none" stroke="#7a7a7a" stroke-width="0.8"/>
<line x1="564.3" y1="132.4" x2="629.8" y2="196.7" stroke="#a0a3a6" stroke-width="0.95"/>
<line x1="564.3" y1="132.4" x2="498.8" y2="196.7" stroke="#a0a3a6" stroke-width="0.95"/>
<line x1="564.3" y1="132.4" x2="498.8" y2="68.1" stroke="#a0a3a6" stroke-width="0.95"/>
<line x1="564.3" y1="132.4" x2="629.8" y2="68.1" stroke="#a0a3a6" stroke-width="0.95"/>
<ellipse cx="564.3" cy="132.4" rx="92.6" ry="91.0" fill="none" stroke="#333" stroke-width="1.3"/>
<path d="M650.7,165.0 A92.6,91.0 0 0 1 481.1,172.3" fill="none" stroke="#b01818" stroke-width="1.5"/>
<line x1="471.69999999999993" y1="132.4" x2="656.9" y2="132.4" stroke="#1a1a1a" stroke-width="1.3"/>
<line x1="564.3" y1="41.400000000000006" x2="564.3" y2="223.4" stroke="#1a1a1a" stroke-width="1.3"/>
<circle cx="533.4" cy="132.4" r="1.2" fill="#1a1a1a"/>
<circle cx="564.3" cy="102.1" r="1.2" fill="#1a1a1a"/>
<circle cx="595.2" cy="132.4" r="1.2" fill="#1a1a1a"/>
<circle cx="564.3" cy="162.7" r="1.2" fill="#1a1a1a"/>
<circle cx="502.6" cy="132.4" r="1.2" fill="#1a1a1a"/>
<circle cx="564.3" cy="71.7" r="1.2" fill="#1a1a1a"/>
<circle cx="626.0" cy="132.4" r="1.2" fill="#1a1a1a"/>
<circle cx="564.3" cy="193.1" r="1.2" fill="#1a1a1a"/>
<circle cx="471.7" cy="132.4" r="1.2" fill="#1a1a1a"/>
<circle cx="564.3" cy="41.4" r="1.2" fill="#1a1a1a"/>
<circle cx="656.9" cy="132.4" r="1.2" fill="#1a1a1a"/>
<circle cx="564.3" cy="223.4" r="1.2" fill="#1a1a1a"/>
<text x="564.3" y="127.6" font-size="8" fill="#333" text-anchor="middle" stroke="#333" stroke-width="0.15">0</text>
<text x="595.2" y="127.6" font-size="8" fill="#333" text-anchor="middle" stroke="#333" stroke-width="0.15">3</text>
<text x="626.0" y="127.6" font-size="8" fill="#333" text-anchor="middle" stroke="#333" stroke-width="0.15">6</text>
<text x="656.9" y="127.6" font-size="8" fill="#333" text-anchor="middle" stroke="#333" stroke-width="0.15">9</text>
<text x="563.7" y="31.9" font-size="7.8" fill="#1c1cb4" text-anchor="middle" font-weight="bold" textLength="10" lengthAdjust="spacingAndGlyphs">A1</text>
<text x="672.2" y="135" font-size="7.8" fill="#1c1cb4" text-anchor="middle" font-weight="bold" textLength="10.7" lengthAdjust="spacingAndGlyphs">A3</text>
<text x="564" y="238.3" font-size="7.8" fill="#1c1cb4" text-anchor="middle" font-weight="bold" textLength="10" lengthAdjust="spacingAndGlyphs">A5</text>
<text x="455.4" y="134.7" font-size="7.8" fill="#1c1cb4" text-anchor="middle" font-weight="bold" textLength="10.3" lengthAdjust="spacingAndGlyphs">A7</text>
<g fill="none" stroke="#e41a1c" stroke-width="1.1" stroke-linejoin="round">
<path d="M564.5,222.5 L564,214 L565,208 L563.5,200 L564.5,195 L566,190 L562.5,187 L562,182 L565,180.5 L569,181.5 L569,187 L566,190 L570,192 L572,185 L571.6,174 L573,166.5 L576.6,165.3 L574,165.5 L573,170 L575.9,176.5 L577.4,186.6 L573.8,192.3 L572.3,195.2 L573,202.4 L575.9,209.5 L576.6,215.3 L578.1,221.5"/>
<path d="M556,222 L555,219 L552,216 L549,213.5 L544.4,212.1 L540.5,212.2 L539,215 L538.6,218.2 L539.5,221"/>
<path d="M559,221.5 L558.7,216 L561,214 L563,217 L560,219 L562,222 L565,220 L566.5,214 L568,218 L566,222"/>
</g>
<g stroke="#e44848" stroke-width="2.8" fill="none"><line x1="557.9" y1="132.8" x2="570.6999999999999" y2="132.8"/><line x1="564.3" y1="126.60000000000001" x2="564.3" y2="138.4"/></g>
<g stroke="#f4a8a8" stroke-width="0.8" fill="none"><line x1="559.8" y1="132.8" x2="568.8" y2="132.8"/><line x1="564.3" y1="128.4" x2="564.3" y2="136.4"/></g>
<rect x="40.8" y="265.3" width="131.01" height="17.099999999999966" fill="#ff8c0a"/>
<rect x="171.81" y="265.3" width="24.81" height="17.099999999999966" fill="#ffff10"/>
<rect x="196.61" y="265.3" width="18.89" height="17.099999999999966" fill="#90ee90"/>
<line x1="40.8" y1="265.3" x2="40.8" y2="282.4" stroke="#7a4a10" stroke-width="1.3"/>
<line x1="49.5" y1="265.3" x2="49.5" y2="282.4" stroke="#a06020" stroke-width="0.7"/>
<line x1="58.3" y1="265.3" x2="58.3" y2="282.4" stroke="#7a4a10" stroke-width="1.3"/>
<line x1="67.0" y1="265.3" x2="67.0" y2="282.4" stroke="#a06020" stroke-width="0.7"/>
<line x1="75.7" y1="265.3" x2="75.7" y2="282.4" stroke="#7a4a10" stroke-width="1.3"/>
<line x1="84.5" y1="265.3" x2="84.5" y2="282.4" stroke="#a06020" stroke-width="0.7"/>
<line x1="93.2" y1="265.3" x2="93.2" y2="282.4" stroke="#7a4a10" stroke-width="1.3"/>
<line x1="101.9" y1="265.3" x2="101.9" y2="282.4" stroke="#a06020" stroke-width="0.7"/>
<line x1="110.7" y1="265.3" x2="110.7" y2="282.4" stroke="#7a4a10" stroke-width="1.3"/>
<line x1="119.4" y1="265.3" x2="119.4" y2="282.4" stroke="#a06020" stroke-width="0.7"/>
<line x1="128.1" y1="265.3" x2="128.1" y2="282.4" stroke="#7a4a10" stroke-width="1.3"/>
<line x1="136.9" y1="265.3" x2="136.9" y2="282.4" stroke="#a06020" stroke-width="0.7"/>
<line x1="145.6" y1="265.3" x2="145.6" y2="282.4" stroke="#7a4a10" stroke-width="1.3"/>
<line x1="154.4" y1="265.3" x2="154.4" y2="282.4" stroke="#a06020" stroke-width="0.7"/>
<line x1="163.1" y1="265.3" x2="163.1" y2="282.4" stroke="#7a4a10" stroke-width="1.3"/>
<line x1="171.8" y1="265.3" x2="171.8" y2="282.4" stroke="#b0b020" stroke-width="0.7"/>
<line x1="180.6" y1="265.3" x2="180.6" y2="282.4" stroke="#8a8a10" stroke-width="1.3"/>
<line x1="189.3" y1="265.3" x2="189.3" y2="282.4" stroke="#b0b020" stroke-width="0.7"/>
<line x1="198.0" y1="265.3" x2="198.0" y2="282.4" stroke="#5a8a5a" stroke-width="1.3"/>
<line x1="206.8" y1="265.3" x2="206.8" y2="282.4" stroke="#80c080" stroke-width="0.7"/>
<line x1="215.5" y1="265.3" x2="215.5" y2="282.4" stroke="#5a8a5a" stroke-width="1.3"/>
<text x="46.4" y="276" font-size="6" fill="#6a3a00" text-anchor="middle">0</text>
<text x="135.4" y="276" font-size="6" fill="#6a3a00" text-anchor="middle">50</text>
<text x="171.4" y="261.5" font-size="6.2" fill="#444" text-anchor="middle">74.99</text>
<text x="195.8" y="261.5" font-size="6.2" fill="#444" text-anchor="middle">89.19</text>
<clipPath id="c100"><rect x="210" y="260" width="19.3" height="25"/></clipPath>
<g clip-path="url(#c100)"><text x="219.8" y="275.3" font-size="6.8" fill="#444" text-anchor="start" stroke="#444" stroke-width="0.15">100</text></g>
<path d="M199.7,281.9 L205.3,290.6 L194.2,290.6 Z" fill="#0a0ad0"/>
<path d="M1.7,521 L1.7,346.4 L682.7,346.4 L682.7,521" fill="none" stroke="#b6c3de" stroke-width="1.4"/>
<line x1="51.7" y1="409.5" x2="573" y2="409.5" stroke="#a8a8a8" stroke-width="1.7"/>
<line x1="51.7" y1="450.5" x2="573" y2="450.5" stroke="#a8a8a8" stroke-width="1.7"/>
<line x1="51.7" y1="367" x2="51.7" y2="492.2" stroke="#3a3a3a" stroke-width="1.6"/>
<line x1="51.7" y1="492.2" x2="573.3" y2="492.2" stroke="#3a3a3a" stroke-width="1.6"/>
<line x1="48.2" y1="409.5" x2="51.7" y2="409.5" stroke="#3a3a3a" stroke-width="1.2"/>
<line x1="48.2" y1="450.5" x2="51.7" y2="450.5" stroke="#3a3a3a" stroke-width="1.2"/>
<line x1="48.2" y1="492.2" x2="51.7" y2="492.2" stroke="#3a3a3a" stroke-width="1.2"/>
<line x1="51.7" y1="492.2" x2="51.7" y2="495" stroke="#3a3a3a" stroke-width="1.2"/>
<line x1="182.3" y1="492.2" x2="182.3" y2="495" stroke="#3a3a3a" stroke-width="1.2"/>
<line x1="312.3" y1="492.2" x2="312.3" y2="495" stroke="#3a3a3a" stroke-width="1.2"/>
<line x1="442.8" y1="492.2" x2="442.8" y2="495" stroke="#3a3a3a" stroke-width="1.2"/>
<line x1="573.0" y1="492.2" x2="573.0" y2="495" stroke="#3a3a3a" stroke-width="1.2"/>
<text x="42.4" y="412.7" font-size="9.5" fill="#3a3a3a" text-anchor="end" stroke="#3a3a3a" stroke-width="0.2" textLength="17.2" lengthAdjust="spacingAndGlyphs">66,7</text>
<text x="43.0" y="453.7" font-size="9.5" fill="#3a3a3a" text-anchor="end" stroke="#3a3a3a" stroke-width="0.2" textLength="23.9" lengthAdjust="spacingAndGlyphs">33,35</text>
<text x="43.8" y="495.7" font-size="9.5" fill="#3a3a3a" text-anchor="end" stroke="#3a3a3a" stroke-width="0.2">0</text>
<text x="50.5" y="505.8" font-size="9.6" fill="#3a3a3a" text-anchor="middle" stroke="#3a3a3a" stroke-width="0.2" textLength="42.9" lengthAdjust="spacingAndGlyphs">3/14/2022</text>
<text x="181.3" y="505.8" font-size="9.6" fill="#3a3a3a" text-anchor="middle" stroke="#3a3a3a" stroke-width="0.2" textLength="42.9" lengthAdjust="spacingAndGlyphs">3/26/2022</text>
<line x1="51.7" y1="397.2" x2="181.8" y2="379.1" stroke="#4a74cc" stroke-width="2"/>
<rect x="48.7" y="394.2" width="6" height="6" fill="#0c14d8"/>
<rect x="178.9" y="376.2" width="5.8" height="5.8" fill="#0c14d8"/>
<text x="69.9" y="411.3" font-size="9.6" fill="#2626a8" text-anchor="middle" font-weight="bold" textLength="22.8" lengthAdjust="spacingAndGlyphs">76,56</text>
<text x="182" y="393.1" font-size="9.6" fill="#2626a8" text-anchor="middle" font-weight="bold" textLength="23.3" lengthAdjust="spacingAndGlyphs">90,95</text>
<text x="581.6" y="365.9" font-size="11.3" fill="#6d8cd0" text-anchor="start" stroke="#6d8cd0" stroke-width="0.2" textLength="90.5" lengthAdjust="spacingAndGlyphs">PROGRESS REPORT</text>
<line x1="588.4" y1="381.6" x2="605.8" y2="381.6" stroke="#4a74cc" stroke-width="1.6"/>
<text x="630" y="384" font-size="9.6" fill="#1a1a1a" text-anchor="start" stroke="#1a1a1a" stroke-width="0.2" textLength="29" lengthAdjust="spacingAndGlyphs">RESULT</text>
<g stroke="#1e8a1e" stroke-width="1.4"><line x1="552.6" y1="376.1" x2="565.1" y2="376.1"/><line x1="558.8" y1="370.2" x2="558.8" y2="382"/></g>
<line x1="552.6" y1="482.5" x2="564.6" y2="482.5" stroke="#d42020" stroke-width="1.4"/>
</svg></body></html>
